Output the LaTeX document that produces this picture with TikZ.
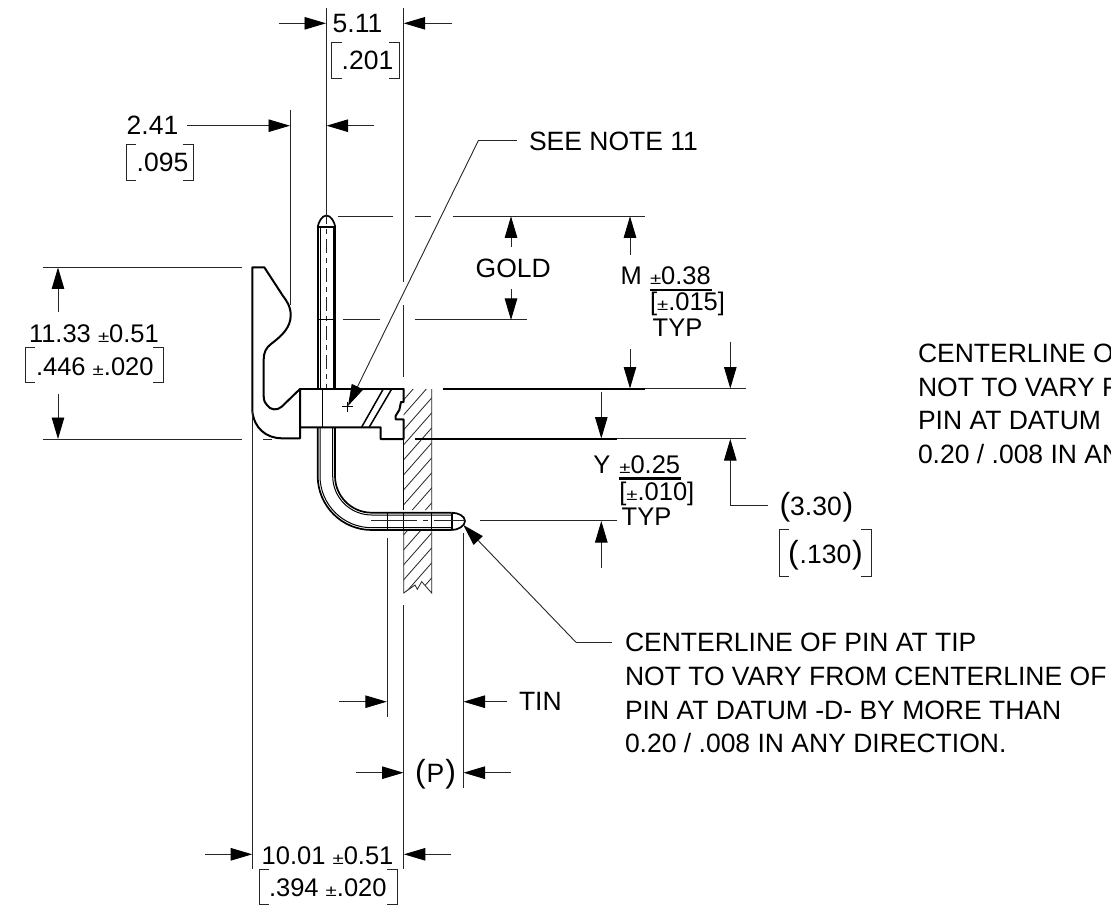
\documentclass[tikz,border=0pt]{standalone}
\usepackage{fontspec}
\usepackage{graphicx}
\setmainfont{Liberation Sans}
\usetikzlibrary{arrows.meta}
\newcommand{\smpm}{\scalebox{0.8}[0.62]{±}}
\newcommand{\bigparL}{{\fontsize{32}{32}\selectfont (}}
\newcommand{\bigparR}{{\fontsize{32}{32}\selectfont )}}
\tikzset{
  thinl/.style={line width=0.9pt,black!85},
  thickl/.style={line width=2pt,black,line cap=round,line join=round},
  medl/.style={line width=1.5pt,black},
  pinout/.style={line width=1.7pt,black},
  pinin/.style={line width=1pt,black},
  arr/.style={thinl,-{Triangle[length=21.5pt,width=12.5pt,black]}},
  lbl/.style={anchor=base west,inner sep=0pt,outer sep=0pt,font=\fontsize{25.5}{25.5}\selectfont,black},
  lblb/.style={anchor=base west,inner sep=0pt,outer sep=0pt,font=\fontsize{26.5}{26.5}\selectfont,black},
  notel/.style={anchor=base west,inner sep=0pt,outer sep=0pt,font=\fontsize{26.5}{26.5}\selectfont,black},
  brk/.style={line width=0.9pt,black!85},
  hatchl/.style={line width=0.8pt,black!85}
}
\begin{document}
\begin{tikzpicture}[x=1pt,y=-1pt]
\useasboundingbox (0,0) rectangle (1111,909);
\fill[white] (0,0) rectangle (1111,909);
% hatching
\begin{scope}
\clip (403.7,389) -- (431.7,389) -- (431.7,510) -- (403.7,510) -- cycle
      (403.7,530) -- (431.7,530) -- (431.7,593) -- (421.7,581.7) -- (417.3,589.3) -- (415,585) -- (403.7,593) -- cycle;
\foreach \k in {0,...,15} {
  \draw[hatchl] (400,{404+15*\k}) -- (436,{404+15*\k-41});
}
\end{scope}
\draw[hatchl] (431.7,389) -- (431.7,510) (431.7,530) -- (431.7,593) -- (421.7,581.7) -- (417.3,589.3) -- (415,585) -- (403.7,593) -- (403.7,530);
\draw[medl,line width=1.1pt] (403.7,439) -- (403.7,510);
% latch
\draw[thickl] (300,389) -- (281.7,406.7) .. controls (277,411) and (270,410) .. (267,405) .. controls (264.5,402) and (263.7,400) .. (263.7,396) -- (263.7,360) .. controls (263.7,352) and (266,348) .. (271,344) .. controls (283,335) and (290.7,327) .. (290.7,315) .. controls (290.7,306) and (286,300) .. (283,296) -- (264.3,267.3) -- (252.3,267.3) -- (252.3,411) .. controls (254,428) and (266,438.3) .. (282,438.3) -- (300,438.3) -- (300,389);
% block
\draw[thickl] (300,388.8) -- (403.5,388.8);
\draw[thickl] (300,427.3) -- (380.7,427.3) -- (380.7,439) -- (403.5,439) -- (403.5,419.3) -- (395.7,419.3) -- (395.7,415.7) -- (399.3,410) -- (401,402) -- (403.5,402) -- (403.5,388.8);
\draw[medl] (322.7,389) -- (322.7,427.3);
\draw[medl] (383.3,389) -- (361.7,427) (391.7,389) -- (369.3,427);
% pin vertical upper
\draw[pinout] (317.7,388) -- (317.7,227) (335.3,227) -- (335.3,388);
\draw[pinin] (320,388) -- (320,227) (333,388) -- (333,227);
\draw[pinout] (317.7,227) -- (335.3,227);
\draw[pinout] (317.7,227) .. controls (318.5,222) and (322,215.5) .. (326.4,215.5) .. controls (331,215.5) and (334.5,222) .. (335.3,227);
\draw[thinl,dash pattern=on 14pt off 5pt on 5pt off 5pt] (326.4,210) -- (326.4,388);
\draw[pinin] (317.7,319.5) -- (335.3,319.5);
% pin lower
\draw[pinout] (317.7,427.3) -- (317.7,476) .. controls (317.7,505.8) and (341.9,530) .. (371.7,530) -- (451.7,530);
\draw[pinin] (320,427.3) -- (320,476) .. controls (320,504.55) and (343.15,527.7) .. (371.7,527.7) -- (451.7,527.7);
\draw[pinout] (335,427.3) -- (335,476) .. controls (335,496.27) and (351.43,512.7) .. (371.7,512.7) -- (451.7,512.7);
\draw[pinin] (332.7,427.3) -- (332.7,476) .. controls (332.7,497.54) and (350.16,515) .. (371.7,515) -- (451.7,515);
\draw[pinin] (387,511.5) -- (387,530) (403.7,511.5) -- (403.7,530) (431.7,511.5) -- (431.7,530);
\draw[pinout] (451.7,512.7) -- (451.7,530);
\draw[pinout] (451.7,512.7) .. controls (458,512.7) and (465,516) .. (465,521) .. controls (465,526) and (458,530) .. (451.7,530);
\draw[thinl,dash pattern=on 46pt off 6pt on 5pt off 6pt on 42pt off 22pt] (371,520.7) -- (465,520.7);
% centre / extension lines
\draw[thinl] (403.5,8) -- (403.5,282) (403.5,305) -- (403.5,377) (403.7,605) -- (403.7,869);
\draw[thinl] (326.4,8) -- (326.4,210);
\draw[thinl] (290.3,110) -- (290.3,305);
\draw[thinl] (252.3,411) -- (252.3,869);
\draw[thinl] (387,538) -- (387,717);
\draw[thinl] (463.3,533) -- (463.3,788);
% horizontal extension
\draw[thinl] (338,216) -- (393,216) (415,216) -- (431,216) (453,216) -- (645,216);
\draw[thinl] (343,319.7) -- (380,319.7) (415,319.7) -- (526.7,319.7);
\draw[thinl] (42.7,267.3) -- (241.7,267.3) (42.7,439) -- (241.7,439) (263,439) -- (272,439);
\draw[thickl,line cap=butt] (442.7,388.8) -- (645,388.8);
\draw[thinl] (645,388.8) -- (745.7,388.8);
\draw[thickl,line cap=butt] (415,438.7) -- (616.7,438.7);
\draw[thinl] (616.7,438.7) -- (745.7,438.7);
\draw[thinl] (480,520.7) -- (616.7,520.7);
% dimensions with arrows
\draw[arr] (279,23.3) -- (326,23.3);
\draw[arr] (451.7,23.3) -- (403.7,23.3);
\draw[arr] (187,125.7) -- (290,125.7);
\draw[arr] (374,125.7) -- (326.6,125.7);
\draw[arr] (58,312) -- (58,267.5);
\draw[arr] (58,394) -- (58,439);
\draw[arr] (511,246.7) -- (511,216.3);
\draw[arr] (511,289) -- (511,320);
\draw[arr] (630,255) -- (630,216.3);
\draw[arr] (630,349) -- (630,388.5);
\draw[arr] (730.3,341.7) -- (730.3,388.5);
\draw[arr] (601.3,391.7) -- (601.3,438.5);
\draw[arr] (601.3,568.3) -- (601.3,521);
\coordinate (elbowA) at (768.3,505.7);
\coordinate (elbowB) at (730.3,505.7);
\draw[thinl] (elbowA) -- (elbowB);
\draw[arr] (elbowB) -- (730.3,439);
\draw[arr] (339.3,701.7) -- (386.8,701.7);
\draw[arr] (507,701.7) -- (463.5,701.7);
\draw[arr] (356,772.7) -- (403.5,772.7);
\draw[arr] (511,772.7) -- (463.5,772.7);
\draw[arr] (205,854.3) -- (252.2,854.3);
\draw[arr] (451,854.3) -- (403.9,854.3);
% leaders
\coordinate (noteTip) at (348,406);
\coordinate (noteElbow) at (478.3,140.7);
\draw[thinl] (516.7,140.7) -- (noteElbow);
\draw[arr] (noteElbow) -- (noteTip);
\draw[line width=0.9pt] (342,406.7) -- (352.5,406.7) (347.3,401.5) -- (347.3,412);
\coordinate (tipTip) at (463.3,525);
\coordinate (tipElbow) at (576,642.3);
\draw[thinl] (612,642.3) -- (tipElbow);
\draw[arr] (tipElbow) -- (tipTip);
% brackets
\newcommand{\brkt}[4]{%
  \draw[brk] (#1+10,#2) -- (#1,#2) -- (#1,#4) -- (#1+10,#4);
  \draw[brk] (#3-10,#2) -- (#3,#2) -- (#3,#4) -- (#3-10,#4);}
\brkt{331.7}{42.3}{399}{78}
\brkt{126}{144.3}{193}{180}
\brkt{25}{347.3}{163.3}{382.7}
\brkt{259.3}{869}{397.3}{904.3}
\brkt{779}{529.3}{871}{576.7}
% text
\node[lblb] (t511) at (332.7,32.7) {5.11};
\node[lblb] (t201) at (341.7,69.3) {.201};
\node[lblb] (t241) at (126.7,134.7) {2.41};
\node[lblb] (t095) at (136.7,171.7) {.095};
\node[lbl] (t1133) at (29,342.7) {11.33 \smpm0.51};
\node[lbl] (t446) at (36,375) {.446 \smpm.020};
\node[lblb] (tnote) at (529,151) {SEE NOTE 11};
\node[lblb] (tgold) at (475.7,277.3) {GOLD};
\node[lbl] (tm) at (620.7,285) {M};
\node[lbl] (tm1) at (650,285) {\smpm0.38};
\draw[line width=2.6pt] (650,290) -- (711.7,290);
\node[lbl] (tm2) at (650,311) {[\smpm.015]};
\node[lbl] (tm3) at (652.7,336.7) {TYP};
\node[lbl] (ty) at (593.3,473.3) {Y};
\node[lbl] (ty1) at (619.3,473.3) {\smpm0.25};
\draw[line width=2.6pt] (619.3,478.3) -- (681,478.3);
\node[lbl] (ty2) at (619.3,500) {[\smpm.010]};
\node[lbl] (ty3) at (621.7,525) {TYP};
\node[lblb] (t330) at (779.5,515.7) {\bigparL 3.30\kern 1pt\bigparR};
\node[lblb] (t130) at (788,563.3) {\bigparL\kern 1pt.130\kern 1pt\bigparR};
\node[lblb] (ttin) at (519,710.7) {TIN};
\node[lblb] (tp) at (415,782.7) {\bigparL\kern 1pt P\kern 1pt\bigparR};
\node[lbl] (t1001) at (261.7,864) {10.01 \smpm0.51};
\node[lbl] (t394) at (269,896) {.394 \smpm.020};
\node[notel] (n1) at (625,651.7) {CENTERLINE OF PIN AT TIP};
\node[notel] (n2) at (625,685.5) {NOT TO VARY FROM CENTERLINE OF};
\node[notel] (n3) at (625,719) {PIN AT DATUM -D- BY MORE THAN};
\node[notel] (n4) at (625,752.3) {0.20 / .008 IN ANY DIRECTION.};
\node[notel] (r1) at (918,362.7) {CENTERLINE O};
\node[notel] (r2) at (918,396) {NOT TO VARY F};
\node[notel] (r3) at (918,429.5) {PIN AT DATUM};
\node[notel] (r4) at (918,463) {0.20 / .008 IN AN};
\end{tikzpicture}
\end{document}
